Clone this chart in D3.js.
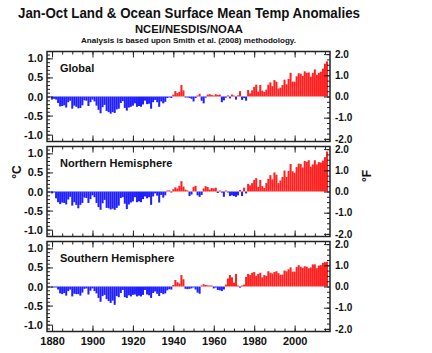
<!DOCTYPE html>
<html>
<head>
<meta charset="utf-8">
<script src="https://cdn.jsdelivr.net/npm/d3@7"></script>
<style>
  body { margin: 0; background: #fff; }
  text { font-family: 'Liberation Sans', Arial, sans-serif; font-weight: bold; fill: #111; }
</style>
</head>
<body>
<script>
// Jan-Oct anomalies, deg C, 1880..2016
var firstYear = 1880;

var globalAnom = [
  -0.08,-0.06,-0.08,-0.17,-0.26,-0.25,-0.23,-0.29,-0.15,-0.11,
  -0.32,-0.24,-0.27,-0.31,-0.30,-0.23,-0.10,-0.11,-0.25,-0.15,
  -0.08,-0.13,-0.24,-0.35,-0.44,-0.28,-0.22,-0.38,-0.41,-0.45,
  -0.41,-0.43,-0.34,-0.32,-0.17,-0.12,-0.30,-0.37,-0.29,-0.27,
  -0.24,-0.18,-0.27,-0.25,-0.27,-0.21,-0.11,-0.20,-0.19,-0.32,
  -0.15,-0.09,-0.15,-0.27,-0.13,-0.18,-0.14,-0.04,-0.01,-0.04,
  0.05,0.14,0.09,0.12,0.30,0.16,-0.01,-0.02,-0.04,-0.06,
  -0.13,-0.04,0.02,0.07,-0.11,-0.18,-0.03,0.05,0.06,0.04,
  0.02,0.06,0.04,0.05,-0.15,-0.10,-0.03,0.03,-0.05,0.05,
  0.02,-0.08,0.03,0.14,-0.09,-0.04,-0.11,0.17,0.08,0.16,
  0.25,0.31,0.13,0.30,0.15,0.12,0.18,0.31,0.37,0.27,
  0.43,0.39,0.21,0.23,0.30,0.44,0.32,0.46,0.62,0.39,
  0.39,0.53,0.61,0.60,0.54,0.66,0.62,0.63,0.52,0.62,
  0.71,0.57,0.62,0.65,0.73,0.86,0.92
];

var northAnom = [
  -0.05,-0.02,-0.18,-0.28,-0.33,-0.29,-0.30,-0.34,-0.21,-0.14,
  -0.37,-0.28,-0.35,-0.44,-0.35,-0.30,-0.16,-0.17,-0.30,-0.20,
  -0.10,-0.15,-0.30,-0.41,-0.48,-0.31,-0.22,-0.43,-0.44,-0.47,
  -0.45,-0.48,-0.43,-0.37,-0.17,-0.15,-0.32,-0.46,-0.34,-0.29,
  -0.26,-0.15,-0.28,-0.26,-0.28,-0.20,-0.13,-0.18,-0.15,-0.35,
  -0.13,-0.05,-0.11,-0.29,-0.09,-0.16,-0.10,0.02,0.03,-0.02,
  0.06,0.11,0.08,0.15,0.27,0.13,0.05,0.01,-0.12,-0.08,
  0.12,0.15,-0.10,-0.14,-0.09,0.08,0.14,0.12,0.05,0.09,
  0.08,0.10,-0.04,0.02,-0.03,-0.14,0.01,-0.02,-0.12,-0.10,
  -0.12,-0.14,-0.10,0.04,-0.12,0.10,-0.05,0.20,0.16,0.22,
  0.30,0.35,0.12,0.30,0.14,0.09,0.22,0.33,0.43,0.32,
  0.50,0.44,0.22,0.29,0.38,0.55,0.38,0.54,0.72,0.53,
  0.49,0.64,0.73,0.72,0.63,0.80,0.78,0.82,0.65,0.71,
  0.82,0.71,0.77,0.76,0.81,0.90,1.05
];

var southAnom = [
  -0.03,-0.01,-0.01,-0.08,-0.18,-0.20,-0.17,-0.24,-0.12,-0.08,
  -0.26,-0.19,-0.20,-0.20,-0.24,-0.16,-0.06,-0.05,-0.21,-0.11,
  -0.05,-0.12,-0.18,-0.30,-0.40,-0.25,-0.22,-0.33,-0.38,-0.43,
  -0.37,-0.48,-0.25,-0.28,-0.17,-0.09,-0.28,-0.30,-0.23,-0.26,
  -0.22,-0.21,-0.26,-0.24,-0.26,-0.22,-0.09,-0.21,-0.23,-0.30,
  -0.17,-0.13,-0.19,-0.25,-0.17,-0.20,-0.18,-0.10,-0.07,-0.08,
  0.04,0.17,0.11,0.08,0.30,0.19,-0.06,-0.07,-0.06,-0.05,
  -0.02,-0.08,-0.16,-0.19,0.01,0.06,0.04,0.03,0.02,0.01,
  -0.05,-0.03,-0.09,-0.10,-0.12,-0.08,0.05,0.21,0.30,0.24,
  0.10,0.33,0.02,-0.03,0.01,0.05,0.25,0.33,0.30,0.36,
  0.38,0.28,0.33,0.36,0.24,0.30,0.28,0.40,0.36,0.34,
  0.38,0.40,0.35,0.31,0.31,0.42,0.40,0.45,0.50,0.39,
  0.39,0.51,0.56,0.52,0.49,0.53,0.52,0.48,0.50,0.58,
  0.58,0.48,0.55,0.56,0.62,0.64,0.65
];

var panelNames = ['Global', 'Northern Hemisphere', 'Southern Hemisphere'];
var panelValues = [globalAnom, northAnom, southAnom];

var cTicks = [-1, -0.5, 0, 0.5, 1];
var fTicks = [-2, -1, 0, 1, 2];
var yearTicks = [1880, 1900, 1920, 1940, 1960, 1980, 2000];

var width = 432, height = 353;
var left = 47, right = 330,
    panelH = 90, panelStep = 95, firstTop = 51.5,
    cMax = 1.18;

var svg = d3.select('body').append('svg')
    .attr('width', width)
    .attr('height', height);

// titles
svg.append('text').attr('x', 189).attr('y', 18).attr('text-anchor', 'middle')
    .attr('font-size', 14).attr('textLength', 342).attr('lengthAdjust', 'spacingAndGlyphs')
    .text('Jan-Oct Land & Ocean Surface Mean Temp Anomalies');
svg.append('text').attr('x', 189).attr('y', 33).attr('text-anchor', 'middle')
    .attr('font-size', 11).attr('textLength', 108).attr('lengthAdjust', 'spacingAndGlyphs')
    .text('NCEI/NESDIS/NOAA');
svg.append('text').attr('x', 188.5).attr('y', 42.5).attr('text-anchor', 'middle')
    .attr('font-size', 7.5).attr('textLength', 215).attr('lengthAdjust', 'spacingAndGlyphs')
    .text('Analysis is based upon Smith et al. (2008) methodology.');

var x = d3.scaleLinear().domain([1877.5, 2017.5]).range([left, right]);
var fmt = function(d) { return d.toFixed(1); };

panelValues.forEach(function(vals, p) {
    var top = firstTop + p * panelStep;
    var g = svg.append('g');
    var y = d3.scaleLinear().domain([-cMax, cMax]).range([top + panelH, top]);
    var yF = d3.scaleLinear().domain([-cMax * 1.8, cMax * 1.8]).range([top + panelH, top]);

    var data = vals.map(function(v, i) { return { year: firstYear + i, v: v }; });

    g.selectAll('rect.bar')
        .data(data)
        .enter()
        .append('rect')
        .attr('class', 'bar')
        .attr('x', function(d) { return x(d.year - 0.5); })
        .attr('width', function(d) { return x(d.year + 0.5) - x(d.year - 0.5); })
        .attr('y', function(d) {
            var h = Math.max(1, Math.abs(y(d.v) - y(0)));
            return d.v >= 0 ? y(0) - h : y(0);
        })
        .attr('height', function(d) { return Math.max(1, Math.abs(y(d.v) - y(0))); })
        .style('fill', function(d) { return d.v >= 0 ? '#ff2020' : '#2020ff'; });

    // minor + major ticks, inward
    function addAxis(axis, tx, ty, fs) {
        var a = g.append('g').attr('transform', 'translate(' + tx + ',' + ty + ')').call(axis);
        a.select('.domain').remove();
        a.selectAll('line').attr('stroke', '#222');
        a.selectAll('text').attr('font-size', fs || 11).attr('fill', '#111')
            .style('font-family', "'Liberation Sans', Arial, sans-serif").style('font-weight', 'bold');
        return a;
    }
    var minorC = d3.range(-11, 12).map(function(i) { return i / 10; });
    var minorF = d3.range(-8, 9).map(function(i) { return i / 4; });
    var minorX = d3.range(1880, 2020, 5);

    addAxis(d3.axisLeft(y).tickValues(minorC).tickSize(-3).tickFormat(''), left, 0);
    addAxis(d3.axisLeft(y).tickValues(cTicks).tickSize(-6).tickPadding(4).tickFormat(fmt), left, 0);
    addAxis(d3.axisRight(yF).tickValues(minorF).tickSize(-3).tickFormat(''), right, 0);
    addAxis(d3.axisRight(yF).tickValues(fTicks).tickSize(-6).tickPadding(5).tickFormat(fmt), right, 0, 10);
    addAxis(d3.axisTop(x).tickValues(minorX).tickSize(-3).tickFormat(''), 0, top);
    addAxis(d3.axisTop(x).tickValues(yearTicks).tickSize(-6).tickFormat(''), 0, top);
    addAxis(d3.axisBottom(x).tickValues(minorX).tickSize(-3).tickFormat(''), 0, top + panelH);
    addAxis(d3.axisBottom(x).tickValues(yearTicks).tickSize(-6).tickPadding(6)
        .tickFormat(p === 2 ? d3.format('d') : ''), 0, top + panelH);

    g.append('rect')
        .attr('x', left).attr('y', top)
        .attr('width', right - left).attr('height', panelH)
        .attr('fill', 'none').attr('stroke', '#222').attr('stroke-width', 1.5);

    g.append('text')
        .attr('x', 60).attr('y', top + 20)
        .attr('font-size', 11)
        .text(panelNames[p]);
});

svg.append('text').attr('transform', 'translate(21,172) rotate(-90)')
    .attr('text-anchor', 'middle').attr('font-size', 12).text('°C');
svg.append('text').attr('transform', 'translate(371,176) rotate(-90)')
    .attr('text-anchor', 'middle').attr('font-size', 12).text('°F');
</script>
</body>
</html>
